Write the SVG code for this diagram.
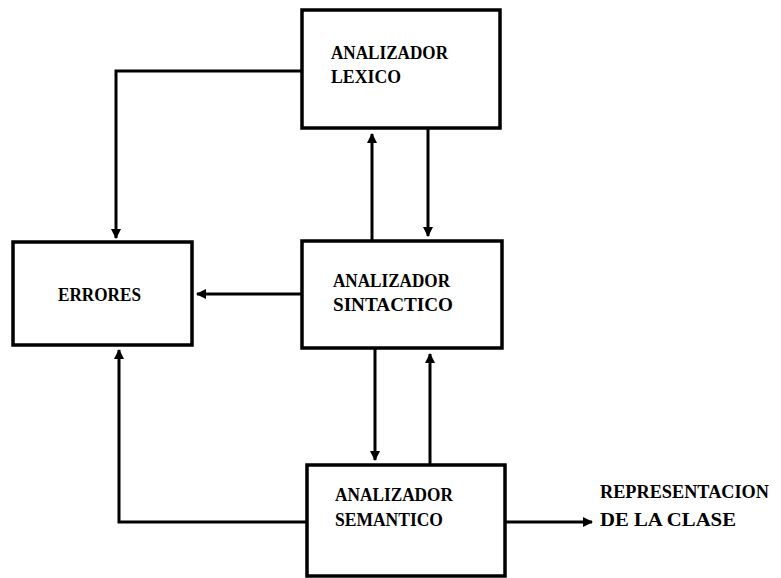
<svg xmlns="http://www.w3.org/2000/svg" width="781" height="578" viewBox="0 0 781 578">
  <style>
    .box { fill: #fff; stroke: #000; stroke-width: 3.5; }
    .wire { fill: none; stroke: #000; stroke-width: 3; }
    .lbl { font-family: "Liberation Serif", "DejaVu Serif", serif; font-weight: bold; font-size: 19px; fill: #000; }
  </style>
  <defs>
    <marker id="head" viewBox="0 0 10 10" refX="9" refY="5" markerWidth="3.5" markerHeight="3.5" orient="auto" markerUnits="strokeWidth">
      <path d="M0,0 L10,5 L0,10 z" fill="#000"/>
    </marker>
  </defs>
  <rect width="781" height="578" fill="#fff"/>

  <g id="connectors">
    <!-- lexico to errores -->
    <path class="wire" d="M302,71 H116 V238" marker-end="url(#head)"/>
    <!-- sintactico up to lexico -->
    <line class="wire" x1="372" y1="241" x2="372" y2="134" marker-end="url(#head)"/>
    <!-- lexico down to sintactico -->
    <line class="wire" x1="428" y1="128" x2="428" y2="236" marker-end="url(#head)"/>
    <!-- sintactico to errores -->
    <line class="wire" x1="302" y1="294" x2="197" y2="294" marker-end="url(#head)"/>
    <!-- sintactico down to semantico -->
    <line class="wire" x1="375" y1="348" x2="375" y2="460" marker-end="url(#head)"/>
    <!-- semantico up to sintactico -->
    <line class="wire" x1="430" y1="465" x2="430" y2="354" marker-end="url(#head)"/>
    <!-- semantico to errores -->
    <path class="wire" d="M307,522 H119 V350" marker-end="url(#head)"/>
    <!-- semantico output -->
    <line class="wire" x1="505" y1="522" x2="592" y2="522" marker-end="url(#head)"/>
  </g>

  <g id="lexico">
    <rect class="box" x="302" y="10" width="198" height="118"/>
    <text class="lbl" x="331" y="59" textLength="117" lengthAdjust="spacingAndGlyphs">ANALIZADOR</text>
    <text class="lbl" x="331" y="83" textLength="70" lengthAdjust="spacingAndGlyphs">LEXICO</text>
  </g>

  <g id="sintactico">
    <rect class="box" x="302" y="241" width="200" height="107"/>
    <text class="lbl" x="333" y="287" textLength="117" lengthAdjust="spacingAndGlyphs">ANALIZADOR</text>
    <text class="lbl" x="333" y="311" textLength="120" lengthAdjust="spacingAndGlyphs">SINTACTICO</text>
  </g>

  <g id="semantico">
    <rect class="box" x="307" y="465" width="198" height="111"/>
    <text class="lbl" x="335" y="501" textLength="118" lengthAdjust="spacingAndGlyphs">ANALIZADOR</text>
    <text class="lbl" x="335" y="526" textLength="108" lengthAdjust="spacingAndGlyphs">SEMANTICO</text>
  </g>

  <g id="errores">
    <rect class="box" x="13" y="242" width="179" height="103"/>
    <text class="lbl" x="58" y="301" textLength="83" lengthAdjust="spacingAndGlyphs">ERRORES</text>
  </g>

  <g id="salida">
    <text class="lbl" x="600" y="498" textLength="169" lengthAdjust="spacingAndGlyphs">REPRESENTACION</text>
    <text class="lbl" x="600" y="526" textLength="136" lengthAdjust="spacingAndGlyphs">DE LA CLASE</text>
  </g>
</svg>
